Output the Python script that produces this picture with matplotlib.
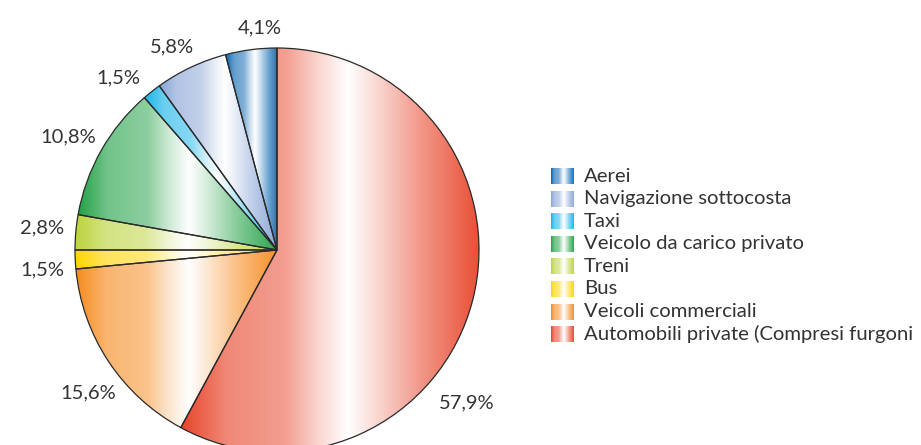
import numpy as np
import matplotlib
matplotlib.use("Agg")
import matplotlib.pyplot as plt
from matplotlib.colors import to_rgb

categories = ["Aerei", "Navigazione sottocosta", "Taxi", "Veicolo da carico privato",
              "Treni", "Bus", "Veicoli commerciali",
              "Automobili private (Compresi furgoni"]
values = [4.1, 5.8, 1.5, 10.8, 2.8, 1.5, 15.6, 57.9]
colors = ["#0b67b2", "#88a4d6", "#17b4e8", "#23a247", "#bcd33c", "#ffd500", "#f68b1f", "#e8452a"]

W, H = 921, 445
fig = plt.figure(figsize=(W / 100, H / 100), dpi=100)
ax = fig.add_axes([0, 0, 1, 1])

cx, cy, R = 277, 195, 202
wedges, _ = ax.pie(values, startangle=90, counterclock=True, center=(cx, cy), radius=R,
                   colors=colors, wedgeprops=dict(linewidth=0))
ax.set_aspect("equal")
ax.axis("off")

pos_anchor = [0.0, 0.15, 0.35, 0.46, 0.56, 0.66, 0.8, 1.0]
w_anchor = [0.0, 0.36, 0.48, 0.78, 1.0, 0.78, 0.45, 0.05]


def grad(col, n=256):
    t = np.linspace(0, 1, n)
    w = np.interp(t, pos_anchor, w_anchor)
    c = np.array(to_rgb(col))
    img = c[None, :] * (1 - w[:, None]) + w[:, None]
    return img[None, :, :]


for wdg, col in zip(wedges, colors):
    ext = wdg.get_path().get_extents(wdg.get_patch_transform())
    im = ax.imshow(grad(col), extent=[ext.x0, ext.x1, ext.y0, ext.y1], aspect="auto",
                   interpolation="bilinear", zorder=1)
    im.set_clip_path(wdg)
    wdg.set_facecolor("none")
    wdg.set_edgecolor("#2a2a2a")
    wdg.set_linewidth(0.9)
    wdg.set_zorder(2)

label_pos = [(260, 28), (172, 47), (118, 78), (68, 137), (42, 228), (42, 270), (88, 393), (467, 403)]
for v, (x, y) in zip(values, label_pos):
    ax.text(x, H - y, f"{v:.1f}%".replace(".", ","), ha="center", va="center",
            fontsize=14.5, color="#333333", family="Lato", zorder=3)

# legend
lx0, lx1 = 551, 574
ly0, dy = 176, 22.6
for i, (cat, col) in enumerate(zip(categories, colors)):
    yc = ly0 + i * dy
    ax.imshow(grad(col), extent=[lx0, lx1, H - yc - 8, H - yc + 8], aspect="auto",
              interpolation="bilinear", zorder=3)
    ax.text(584, H - yc, cat, ha="left", va="center", fontsize=14.6,
            color="#333333", family="Lato", zorder=3)

ax.set_xlim(0, W)
ax.set_ylim(0, H)
fig.savefig("out.png", dpi=100)
